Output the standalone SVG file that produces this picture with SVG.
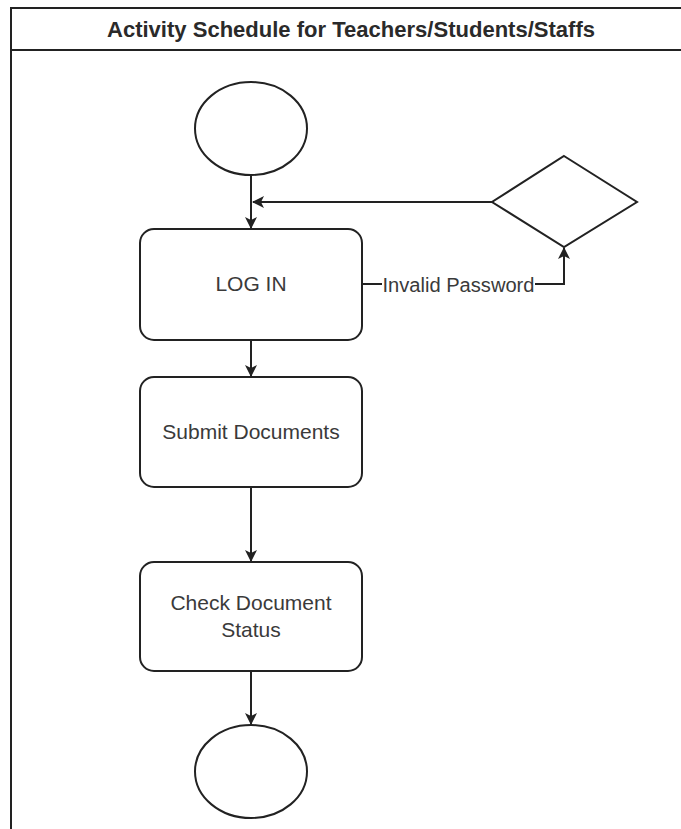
<svg xmlns="http://www.w3.org/2000/svg" width="681" height="829" viewBox="0 0 681 829">
<defs>
<style>
.shape{fill:#fff;stroke:#222;stroke-width:2}
.edge{fill:none;stroke:#222;stroke-width:2}
.lbl{font-family:"Liberation Sans",Arial,sans-serif;font-size:21px;fill:#3a3a3a;text-anchor:middle}
.title{font-family:"Liberation Sans",Arial,sans-serif;font-size:22px;font-weight:bold;fill:#2a2a2a;text-anchor:middle}
.elbl{font-family:"Liberation Sans",Arial,sans-serif;font-size:20px;fill:#3a3a3a;text-anchor:middle}
</style>
<marker id="arr" viewBox="0 0 12 12" refX="11" refY="6" markerWidth="12" markerHeight="12" markerUnits="userSpaceOnUse" orient="auto">
<path d="M0,0 L12,6 L0,12 L3,6 Z" fill="#222"/>
</marker>
</defs>
<rect width="681" height="829" fill="#fff"/>
<g id="pool">
<rect x="11" y="8" width="690" height="840" fill="none" stroke="#222" stroke-width="2"/>
<line x1="11" y1="50" x2="690" y2="50" stroke="#222" stroke-width="2"/>
<text class="title" x="351" y="37" textLength="488" lengthAdjust="spacingAndGlyphs">Activity Schedule for Teachers/Students/Staffs</text>
</g>
<g id="connectors">
<path class="edge" d="M251,175 V228" marker-end="url(#arr)"/>
<path class="edge" d="M492,202 H253" marker-end="url(#arr)"/>
<path class="edge" d="M362,284 H564 V248" marker-end="url(#arr)"/>
<rect x="382" y="272" width="153" height="24" fill="#fff"/>
<text class="elbl" x="458.5" y="292" textLength="152" lengthAdjust="spacingAndGlyphs">Invalid Password</text>
<path class="edge" d="M251,340 V376" marker-end="url(#arr)"/>
<path class="edge" d="M251,487 V561" marker-end="url(#arr)"/>
<path class="edge" d="M251,671 V724" marker-end="url(#arr)"/>
</g>
<g id="start">
<ellipse class="shape" cx="251" cy="128.5" rx="56" ry="46.5"/>
</g>
<g id="decision">
<polygon class="shape" points="564,156 637,202 564,247 492,202"/>
</g>
<g id="login">
<rect class="shape" x="140" y="229" width="222" height="111" rx="14"/>
<text class="lbl" x="251" y="291">LOG IN</text>
</g>
<g id="submit">
<rect class="shape" x="140" y="377" width="222" height="110" rx="14"/>
<text class="lbl" x="251" y="439">Submit Documents</text>
</g>
<g id="check">
<rect class="shape" x="140" y="562" width="222" height="109" rx="14"/>
<text class="lbl" x="251" y="610">Check Document</text>
<text class="lbl" x="251" y="637">Status</text>
</g>
<g id="end">
<ellipse class="shape" cx="251" cy="771.5" rx="56" ry="46.5"/>
</g>
</svg>
